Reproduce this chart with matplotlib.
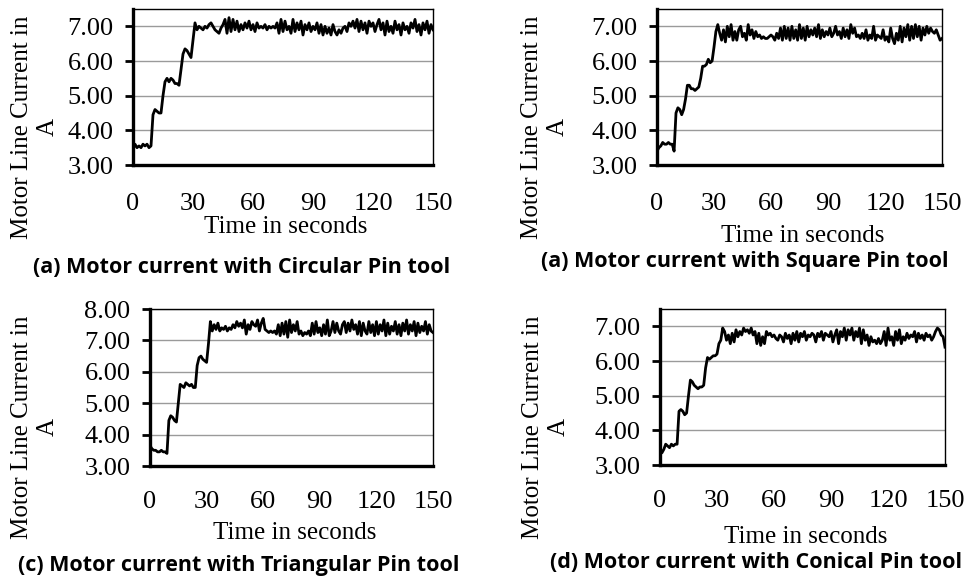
import matplotlib
matplotlib.use("Agg")
import matplotlib.pyplot as plt

time_s = list(range(0, 151))
x_ticks = [0, 30, 60, 90, 120, 150]

circular = [3.45, 3.6, 3.5, 3.55, 3.5, 3.6, 3.55, 3.6, 3.5, 3.55,
            4.45, 4.6, 4.55, 4.5, 4.5, 5.0, 5.4, 5.5, 5.4, 5.5,
            5.45, 5.35, 5.35, 5.3, 5.75, 6.2, 6.35, 6.3, 6.2, 6.1,
            6.6, 7.1, 6.9, 7.0,
            6.95, 6.9, 7.0, 6.95, 7.05, 7.1, 7.0, 6.9, 6.85, 6.8, 6.95, 7.05,
            7.2, 6.8, 7.25, 6.85, 7.2, 6.9, 7.15, 6.85, 7.05, 6.9, 7.1, 6.95, 7.15, 6.9, 7.05,
            6.85, 7.1, 6.95, 7.0, 6.95, 7.05, 6.9, 7.0, 6.95, 7.0, 6.95, 7.1, 6.8, 7.2, 6.85,
            7.15, 6.9, 7.0, 6.8, 7.2, 6.85, 7.1, 6.9, 7.15, 6.75, 7.05, 6.9, 7.1, 6.85, 7.0,
            6.9, 7.1, 6.8, 7.05, 6.75, 7.0, 6.8, 6.95, 6.75, 7.05, 6.85, 6.75, 6.9, 6.8, 6.95,
            7.0, 6.85, 7.1, 7.0, 7.15, 6.95, 7.2, 6.85, 7.15, 6.9, 7.1, 6.8, 7.15, 7.0, 7.1,
            6.85, 7.05, 7.2, 6.9, 7.1, 6.75, 7.15, 6.85, 7.0, 6.8, 7.15, 6.9, 7.05, 6.75, 7.1,
            6.9, 7.0, 6.8, 7.1, 6.95, 7.2, 6.85, 7.05, 6.75, 7.1, 6.9, 7.15, 6.8, 7.05, 6.9]

square = [3.4, 3.5, 3.55, 3.65, 3.6, 3.6, 3.65, 3.6, 3.6, 3.4,
          4.5, 4.65, 4.6, 4.45, 4.6, 4.9, 5.3, 5.3, 5.2, 5.2,
          5.15, 5.2, 5.25, 5.5, 5.85, 5.85, 5.9, 6.05, 5.95, 6.0,
          6.4, 6.85, 7.05, 6.8,
          6.6, 6.9, 6.55, 7.0, 6.7, 7.05, 6.6, 6.85, 6.6, 6.9, 7.0, 6.7,
          6.8, 6.6, 7.05, 6.75, 6.9, 6.65, 6.85, 6.7, 6.75, 6.65, 6.7, 6.65, 6.65, 6.7, 6.75,
          6.7, 6.6, 6.8, 6.65, 6.95, 6.6, 7.0, 6.65, 6.95, 6.6, 7.0, 6.65, 6.9, 6.6, 7.05,
          6.65, 6.95, 6.6, 7.0, 6.7, 6.9, 6.75, 6.95, 6.7, 7.05, 6.65, 6.9, 6.7, 6.85, 6.75,
          6.95, 6.7, 6.8, 7.0, 6.75, 6.85, 6.65, 6.95, 6.7, 6.9, 6.65, 7.05, 6.8, 6.95, 6.7,
          6.75, 6.65, 6.8, 6.65, 6.9, 6.6, 6.75, 6.65, 7.0, 6.6, 6.75, 6.7, 6.65, 6.9, 6.6,
          6.7, 6.55, 6.95, 6.65, 6.5, 6.8, 6.6, 7.0, 6.55, 6.95, 6.7, 7.05, 6.6, 7.0, 6.65,
          7.05, 6.7, 7.0, 6.6, 6.95, 6.75, 7.0, 6.8, 6.95, 6.85, 6.8, 6.9, 6.75, 6.6, 6.65]

triangular = [3.65, 3.55, 3.5, 3.5, 3.45, 3.45, 3.5, 3.45, 3.45, 3.4,
              4.45, 4.6, 4.55, 4.45, 4.4, 5.0, 5.6, 5.55, 5.5, 5.65,
              5.6, 5.55, 5.6, 5.5, 5.5, 6.2, 6.45, 6.5, 6.4, 6.35,
              6.3, 6.9, 7.6, 7.3,
              7.5, 7.35, 7.55, 7.3, 7.4, 7.35, 7.45, 7.3, 7.4, 7.35, 7.5, 7.4,
              7.6, 7.45, 7.55, 7.4, 7.65, 7.2, 7.5, 7.35, 7.6, 7.5, 7.45, 7.65, 7.3, 7.55, 7.7,
              7.35, 7.3, 7.25, 7.3, 7.25, 7.3, 7.2, 7.5, 7.15, 7.55, 7.2, 7.6, 7.1, 7.65, 7.25,
              7.5, 7.3, 7.6, 7.2, 7.3, 7.15, 7.25, 7.2, 7.3, 7.15, 7.55, 7.2, 7.6, 7.25, 7.4,
              7.15, 7.5, 7.2, 7.65, 7.15, 7.3, 7.6, 7.25, 7.55, 7.3, 7.2, 7.5, 7.6, 7.25, 7.55,
              7.3, 7.65, 7.35, 7.5, 7.2, 7.6, 7.15, 7.55, 7.3, 7.2, 7.6, 7.25, 7.5, 7.15, 7.6,
              7.2, 7.5, 7.3, 7.65, 7.15, 7.55, 7.2, 7.45, 7.3, 7.6, 7.2, 7.5, 7.15, 7.55, 7.3,
              7.65, 7.2, 7.5, 7.3, 7.6, 7.15, 7.55, 7.25, 7.45, 7.3, 7.6, 7.2, 7.5, 7.3, 7.25]

conical = [3.5, 3.35, 3.45, 3.6, 3.55, 3.5, 3.6, 3.55, 3.6, 3.6,
           4.55, 4.6, 4.55, 4.45, 4.5, 5.0, 5.45, 5.4, 5.3, 5.25,
           5.2, 5.25, 5.25, 5.3, 5.8, 6.1, 6.05, 6.1, 6.15, 6.15,
           6.2, 6.5, 6.6, 6.95,
           6.85, 6.6, 6.75, 6.5, 6.8, 6.55, 6.9, 6.7, 6.85, 6.75, 6.95, 6.85,
           6.9, 6.8, 6.95, 6.75, 6.85, 6.5, 6.8, 6.45, 6.7, 6.5, 6.85, 6.75, 6.8, 6.7, 6.75,
           6.65, 6.6, 6.75, 6.7, 6.55, 6.8, 6.65, 6.75, 6.5, 6.8, 6.6, 6.85, 6.55, 6.8, 6.7,
           6.85, 6.6, 6.75, 6.7, 6.8, 6.75, 6.55, 6.8, 6.7, 6.85, 6.6, 6.8, 6.75, 6.7, 6.85,
           6.55, 6.75, 6.9, 6.5, 6.85, 6.7, 6.95, 6.6, 6.9, 6.75, 6.95, 6.6, 6.85, 6.7, 6.95,
           6.5, 6.9, 6.6, 6.75, 6.45, 6.7, 6.55, 6.6, 6.5, 6.65, 6.5, 6.6, 6.85, 6.45, 6.95,
           6.6, 6.7, 6.45, 6.85, 6.6, 6.9, 6.5, 6.7, 6.6, 6.8, 6.65, 6.75, 6.7, 6.85, 6.55,
           6.8, 6.65, 6.75, 6.6, 6.8, 6.7, 6.75, 6.6, 6.7, 6.85, 6.95, 6.9, 6.75, 6.7, 6.4]

captions = ["(a) Motor current with Circular Pin tool",
            "(a) Motor current with Square Pin tool",
            "(c) Motor current with Triangular Pin tool",
            "(d) Motor current with Conical Pin tool"]
y_label = "Motor Line Current in\nA"
x_label = "Time in seconds"

W, H = 975, 579
fig = plt.figure(figsize=(W / 100, H / 100), dpi=100)

serif = "Liberation Serif"

# pixel boxes: left, right, top, bottom
boxes = [(133, 433, 9, 165), (657, 942, 9, 165), (150, 433, 309, 466), (660, 945, 309, 465)]
series = [circular, square, triangular, conical]
ylims = [(3, 7.5), (3, 7.5), (3, 8), (3, 7.5)]
yticks = [[3, 4, 5, 6, 7], [3, 4, 5, 6, 7], [3, 4, 5, 6, 7, 8], [3, 4, 5, 6, 7]]
ylabel_pos = [(35, 127), (545, 127), (35, 427), (546, 427)]
caption_pos = [(242, 268), (745, 262), (239, 565), (756, 563)]
xlabel_y = [227, 236, 533, 537]
xtick_pad = [20, 20, 18, 18]

for i in range(4):
    l, r, t, b = boxes[i]
    ax = fig.add_axes([l / W, 1 - b / H, (r - l) / W, (b - t) / H])
    ax.plot(time_s, series[i], color="black", lw=2.0, solid_joinstyle="round")
    ax.set_xlim(0, 150)
    ax.set_ylim(*ylims[i])
    ax.set_xticks(x_ticks)
    ax.set_xticklabels([str(v) for v in x_ticks], fontfamily=serif, fontsize=19)
    ax.set_yticks(yticks[i])
    ax.set_yticklabels([f"{v:.2f}" for v in yticks[i]], fontfamily=serif, fontsize=19)
    ax.tick_params(axis="x", length=0, pad=xtick_pad[i])
    ax.tick_params(axis="y", length=6, width=2, direction="out", pad=8)
    ax.yaxis.grid(True, color="#9a9a9a", lw=1.0)
    ax.set_axisbelow(True)
    for s in ["left", "bottom"]:
        ax.spines[s].set_linewidth(2.4)
    for s in ["top", "right"]:
        ax.spines[s].set_linewidth(1.0)
    cx = (l + r) / 2
    fig.text(cx / W + 0.003, 1 - xlabel_y[i] / H, x_label, fontfamily=serif, fontsize=18,
             ha="center", va="center")
    yx, yy = ylabel_pos[i]
    fig.text(yx / W, 1 - yy / H, y_label, fontfamily=serif, fontsize=18,
             rotation=90, ha="center", va="center", multialignment="center",
             linespacing=1.25)
    px, py = caption_pos[i]
    fig.text(px / W, 1 - py / H, captions[i], fontfamily="Open Sans", fontweight="bold",
             fontsize=15.5, ha="center", va="center")

fig.savefig("out.png", dpi=100)
